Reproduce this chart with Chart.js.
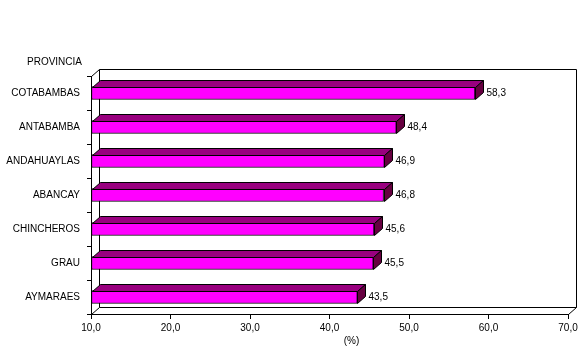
<!DOCTYPE html>
<html>
<head>
<meta charset="utf-8">
<script src="https://cdn.jsdelivr.net/npm/chart.js@4/dist/chart.umd.min.js"></script>
<style>
html,body{margin:0;padding:0;background:#fff;}
#wrap{width:588px;height:353px;position:relative;}
</style>
</head>
<body>
<div id="wrap"><canvas id="c" width="588" height="353"></canvas></div>
<script>
const categories = ["COTABAMBAS","ANTABAMBA","ANDAHUAYLAS","ABANCAY","CHINCHEROS","GRAU","AYMARAES"];
const values = [58.3, 48.4, 46.9, 46.8, 45.6, 45.5, 43.5];
const xTicks = [10, 20, 30, 40, 50, 60, 70];
const axisTitleY = "PROVINCIA";
const axisTitleX = "(%)";

const FONT = '"Liberation Sans", Arial, sans-serif';
const DX = 8, DY = 7;
const fmt = v => v.toFixed(1).replace('.', ',');

const threeD = {
  id: 'threeD',
  beforeDatasetsDraw(chart) {
    const {ctx, chartArea: a} = chart;
    const L = Math.round(a.left) + 0.5, R = Math.round(a.right) + 0.5;
    const T = Math.round(a.top) + 0.5, B = Math.round(a.bottom) + 0.5;
    ctx.save();
    ctx.strokeStyle = '#000';
    ctx.lineWidth = 1;
    ctx.fillStyle = '#fff';
    ctx.beginPath();
    ctx.rect(L + DX, T - DY, R - L, B - T);
    ctx.fill();
    ctx.stroke();
    ctx.beginPath();
    ctx.moveTo(L, T); ctx.lineTo(L + DX, T - DY);
    ctx.moveTo(L, B); ctx.lineTo(L + DX, B - DY);
    ctx.moveTo(R, B); ctx.lineTo(R + DX, B - DY);
    ctx.stroke();
    ctx.restore();
  },
  afterDatasetsDraw(chart) {
    const {ctx} = chart;
    const meta = chart.getDatasetMeta(0);
    ctx.save();
    ctx.strokeStyle = '#000';
    ctx.lineWidth = 1;
    meta.data.forEach((bar, i) => {
      const p = bar.getProps(['x', 'y', 'base', 'height'], true);
      const x0 = Math.round(p.base) + 0.5;
      const x1 = Math.round(p.x) + 0.5;
      const top = Math.round(p.y - p.height / 2) + 0.5;
      const bot = Math.round(p.y + p.height / 2) - 0.5;
      ctx.fillStyle = '#99007F';
      ctx.beginPath();
      ctx.moveTo(x0, top); ctx.lineTo(x1, top);
      ctx.lineTo(x1 + DX, top - DY); ctx.lineTo(x0 + DX, top - DY);
      ctx.closePath(); ctx.fill(); ctx.stroke();
      ctx.fillStyle = '#660040';
      ctx.beginPath();
      ctx.moveTo(x1, top); ctx.lineTo(x1 + DX, top - DY);
      ctx.lineTo(x1 + DX, bot - DY); ctx.lineTo(x1, bot);
      ctx.closePath(); ctx.fill(); ctx.stroke();
      ctx.fillStyle = '#000';
      ctx.font = '10px ' + FONT;
      ctx.textAlign = 'left';
      ctx.textBaseline = 'middle';
      ctx.fillText(fmt(values[i]), x1 + DX + 3, p.y);
    });
    const a = chart.chartArea;
    ctx.font = '10px ' + FONT;
    ctx.textAlign = 'right';
    ctx.textBaseline = 'middle';
    ctx.fillText(axisTitleY, a.left - 9, 62);
    ctx.textAlign = 'center';
    ctx.fillText(axisTitleX, (a.left + a.right) / 2 + 22, 341);
    ctx.restore();
  }
};

new Chart(document.getElementById('c'), {
  type: 'bar',
  data: {
    labels: categories,
    datasets: [{
      data: values,
      base: xTicks[0],
      backgroundColor: '#FF00FF',
      borderColor: '#000',
      borderWidth: 1,
      borderSkipped: false,
      barThickness: 13
    }]
  },
  options: {
    indexAxis: 'y',
    responsive: false,
    animation: false,
    devicePixelRatio: 1,
    layout: {padding: {top: 76, right: 20, left: 0, bottom: 0}},
    plugins: {legend: {display: false}, tooltip: {enabled: false}},
    scales: {
      x: {
        type: 'linear',
        min: xTicks[0],
        max: xTicks[xTicks.length - 1],
        beginAtZero: false,
        afterBuildTicks: s => { s.ticks = xTicks.map(v => ({value: v})); },
        afterFit: s => { s.height = 39; },
        grid: {drawOnChartArea: false, tickLength: 5, color: '#000'},
        border: {color: '#000'},
        ticks: {color: '#000', font: {size: 10, family: FONT}, padding: 3, maxRotation: 0,
                callback: v => fmt(v)}
      },
      y: {
        afterFit: s => { s.width = 91; },
        grid: {drawOnChartArea: false, tickLength: 4, color: '#000', offset: true},
        border: {color: '#000'},
        ticks: {color: '#000', font: {size: 10, family: FONT}, padding: 7}
      }
    }
  },
  plugins: [threeD]
});
</script>
</body>
</html>
